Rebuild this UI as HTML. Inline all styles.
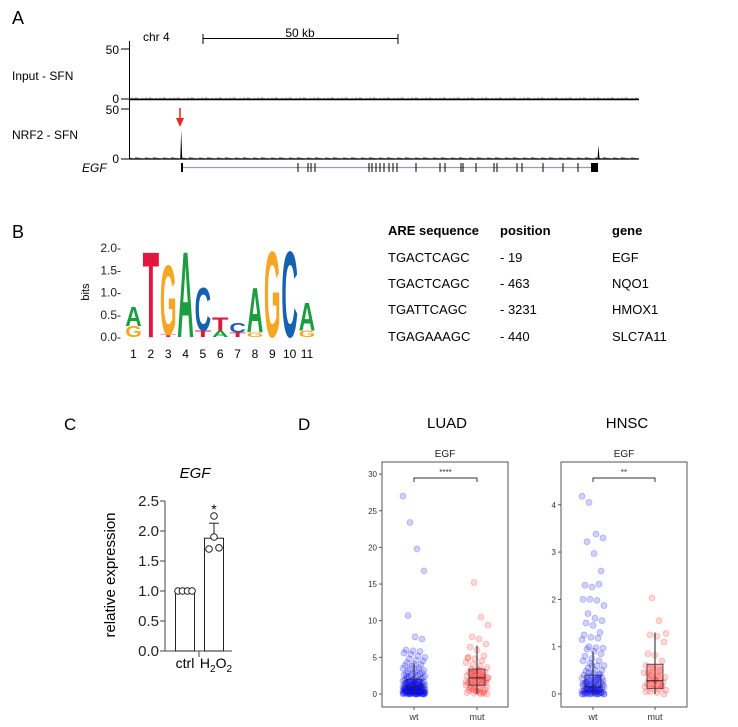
<!DOCTYPE html>
<html><head><meta charset="utf-8">
<style>
html,body{margin:0;padding:0;background:#fff;}
svg{display:block;font-family:"Liberation Sans",Arial,sans-serif;}
</style></head>
<body>
<svg id="fig" width="738" height="727" viewBox="0 0 738 727" xmlns="http://www.w3.org/2000/svg">
<!-- Panel A -->
<g>
 <text x="12" y="24" font-size="18">A</text>
 <text x="143" y="41" font-size="12">chr 4</text>
 <text x="300" y="37" font-size="12" text-anchor="middle">50 kb</text>
 <g stroke="#000" stroke-width="1">
  <line x1="203" y1="38.5" x2="398" y2="38.5"/><line x1="203" y1="34" x2="203" y2="44"/><line x1="398" y1="34" x2="398" y2="44"/>
 </g>
 <text x="12" y="80" font-size="12">Input - SFN</text>
 <text x="12" y="139" font-size="12">NRF2 - SFN</text>
 <text x="82" y="172" font-size="12" font-style="italic">EGF</text>
 <g font-size="12" text-anchor="end">
  <text x="119" y="54">50</text><text x="119" y="103">0</text>
  <text x="119" y="114">50</text><text x="119" y="163">0</text>
 </g>
 <g stroke="#000" stroke-width="1">
  <line x1="129.5" y1="41" x2="129.5" y2="159"/>
  <line x1="121" y1="49" x2="129.5" y2="49"/><line x1="121" y1="99" x2="129.5" y2="99"/>
  <line x1="121" y1="109" x2="129.5" y2="109"/><line x1="121" y1="159" x2="129.5" y2="159"/>
  <line x1="129.5" y1="99.5" x2="639" y2="99.5" stroke-width="1.5"/>
  <line x1="129.5" y1="159" x2="639" y2="159" stroke-width="1.2"/>
 </g>
 <g id="noise"></g>
 <path d="M180.3 159 L181.2 130 L182.2 159 Z" fill="#000"/>
 <path d="M597.5 159 L598.5 145 L599.5 159 Z" fill="#000"/>
 <g>
  <line x1="180" y1="108" x2="180" y2="119" stroke="#e8281e" stroke-width="1.5"/>
  <path d="M176 118 L184 118 L180 127 Z" fill="#e8281e"/>
 </g>
 <g>
  <line x1="183" y1="167.5" x2="594" y2="167.5" stroke="#9a9ab8" stroke-width="1.2"/>
  <rect x="181" y="163" width="2" height="9" fill="#000"/>
  <rect x="591" y="163" width="7" height="9" fill="#000"/>
  <g id="exons" stroke="#000" stroke-width="1"></g>
 </g>
</g>
<!-- Panel B -->
<g>
 <text x="12" y="238" font-size="18">B</text>
 <text transform="translate(89,292) rotate(-90)" font-size="11" text-anchor="middle">bits</text>
 <g font-size="12" text-anchor="end" fill="#222" id="logoticks"></g>
 <g id="logo"></g>
 <g font-size="12" text-anchor="middle" id="logopos"></g>
</g>
<!-- Table -->
<g font-size="13">
 <text x="388" y="235" font-weight="bold">ARE sequence</text>
 <text x="500" y="235" font-weight="bold">position</text>
 <text x="612" y="235" font-weight="bold">gene</text>
 <text x="388" y="262">TGACTCAGC</text><text x="500" y="262">- 19</text><text x="612" y="262">EGF</text>
 <text x="388" y="288">TGACTCAGC</text><text x="500" y="288">- 463</text><text x="612" y="288">NQO1</text>
 <text x="388" y="314">TGATTCAGC</text><text x="500" y="314">- 3231</text><text x="612" y="314">HMOX1</text>
 <text x="388" y="341">TGAGAAAGC</text><text x="500" y="341">- 440</text><text x="612" y="341">SLC7A11</text>
</g>
<!-- Panel C -->
<g id="panelc">
 <text x="64" y="430" font-size="17">C</text>
 <text x="195" y="478" font-size="15" font-style="italic" text-anchor="middle">EGF</text>
 <text transform="translate(115,575) rotate(-90)" font-size="15" text-anchor="middle">relative expression</text>
 <text x="185" y="668" font-size="14" text-anchor="middle">ctrl</text>
 <text x="216" y="668" font-size="14" text-anchor="middle">H<tspan font-size="10" dy="4">2</tspan><tspan dy="-4">O</tspan><tspan font-size="10" dy="4">2</tspan></text>
</g>
<!-- Panel D -->
<g id="paneld">
 <text x="298" y="430" font-size="17">D</text>
 <text x="447" y="428" font-size="15" text-anchor="middle">LUAD</text>
 <text x="627" y="428" font-size="15" text-anchor="middle">HNSC</text>
</g>
</svg>
<script>
// ---- Panel C data ----
const cCategories = ['ctrl', 'H2O2'];
const cMeans = [1.0, 1.88];
const cSD = [0.0, 0.25];
const cPointsCtrl = [1.0, 1.0, 1.0, 1.0];
const cPointsH2O2 = [1.7, 1.72, 1.9, 2.25];
const cTicks = [0, 0.5, 1.0, 1.5, 2.0, 2.5];
const cTickLabels = ['0.0', '0.5', '1.0', '1.5', '2.0', '2.5'];

// ---- Panel D data ----
const luadWt = [27,23.4,19.8,16.8,10.7,7.8,7.5,6,5.9,5.8,5.6,5.4,5.2,5,4.8,4.6,4.5,4.3,4.1,4,3.9,3.8,3.6,3.5,3.4,3.3,3.2,3.1,3,2.9,2.8,2.8,2.7,2.6,2.5,2.5,2.4,2.3,2.2,2.2,2.1,2,2,1.9,1.9,1.8,1.8,1.7,1.7,1.6,1.6,1.5,1.5,1.5,1.4,1.4,1.3,1.3,1.3,1.2,1.2,1.2,1.1,1.1,1.1,1,1,1,0.9,0.9,0.9,0.9,0.8,0.8,0.8,0.8,0.7,0.7,0.7,0.7,0.6,0.6,0.6,0.6,0.5,0.5,0.5,0.5,0.5,0.4,0.4,0.4,0.4,0.4,0.3,0.3,0.3,0.3,0.3,0.3,0.2,0.2,0.2,0.2,0.2,0.2,0.1,0.1,0.1,0.1,0.1,0.1,0.05,0.05,0.05,0.05,0,0,0,0,0,0,1.5,1.2,0.9,0.7,0.5,0.3,0.2,0.1,0,0,2.4,1.8,1.1,0.6,0.4,0.2,0.1,0.05,0,0];
const luadMut = [15.2,10.5,9.4,7.8,7.5,6.8,6.4,6,5.2,5,4.8,4.5,4.3,4,3.8,3.6,3.4,3.2,3,2.9,2.7,2.6,2.5,2.4,2.3,2.2,2.1,2,1.9,1.8,1.7,1.6,1.5,1.4,1.3,1.2,1.1,1,0.9,0.8,0.7,0.6,0.5,0.4,0.3,0.2,0.1,0,2.2,2.8,3.3,1.5,0.9,0.4,0.1,4.9,3.1,2.3,1.7,0.6,0.2,0];
const hnscWt = [4.18,4.05,3.38,3.3,3.22,2.97,2.6,2.3,2.26,2.32,2,2,1.98,1.87,1.7,1.6,1.55,1.5,1.45,1.3,1.25,1.2,1.18,1.15,1.0,0.98,0.97,0.95,0.9,0.85,0.8,0.75,0.7,0.7,0.65,0.6,0.6,0.55,0.5,0.5,0.48,0.45,0.42,0.4,0.38,0.35,0.33,0.3,0.3,0.28,0.26,0.25,0.24,0.22,0.2,0.2,0.18,0.17,0.16,0.15,0.14,0.13,0.12,0.11,0.1,0.1,0.09,0.08,0.07,0.06,0.05,0.05,0.04,0.03,0.03,0.02,0.02,0.01,0.01,0,0,0,0,0,0,0.35,0.25,0.15,0.1,0.05,0.02,0,0,0.45,0.3,0.2,0.12,0.06,0.03,0,0.6,0.4,0.22,0.1,0.04,0];
const hnscMut = [2.03,1.55,1.28,1.25,1.22,1.1,0.85,0.82,0.7,0.6,0.55,0.5,0.45,0.4,0.38,0.35,0.3,0.28,0.25,0.22,0.2,0.18,0.15,0.12,0.1,0.08,0.05,0.03,0,0.45,0.3,0.15,0.05];
const luadWtBox = [0, 0.3, 1.0, 2.0, 4.2];
const luadMutBox = [0, 1.2, 2.2, 3.4, 6.6];
const hnscWtBox = [0, 0.04, 0.15, 0.4, 0.9];
const hnscMutBox = [0, 0.12, 0.28, 0.63, 1.3];
const luadTicks = [0, 5, 10, 15, 20, 25, 30];
const hnscTicks = [0, 1, 2, 3, 4];
const dGroups = ['wt', 'mut'];
const luadSig = '****';
const hnscSig = '**';

// ---- Panel A / B data ----
const exonPositions = [298,308,311,315,369,372,376,380,384,389,393,397,416,440,445,461,463,476,494,497,517,522,543,563,578];
const logoTicks = [0, 0.5, 1.0, 1.5, 2.0];
const logoTickLabels = ['0.0-', '0.5-', '1.0-', '1.5-', '2.0-'];
const logoColumns = [
 [['G',0.25],['A',0.45]],
 [['T',2.0]],
 [['T',0.06],['G',1.62]],
 [['A',2.0]],
 [['T',0.15],['C',1.0]],
 [['A',0.15],['T',0.3]],
 [['T',0.1],['C',0.22]],
 [['G',0.1],['A',1.05]],
 [['G',2.0]],
 [['C',2.0]],
 [['G',0.15],['A',0.65]]
];

const NS='http://www.w3.org/2000/svg';
function mk(tag, attrs, parent){const e=document.createElementNS(NS,tag);for(const k in attrs)e.setAttribute(k,attrs[k]);parent.appendChild(e);return e;}

// Panel A noise (decorative background signal)
(function(){
 const g=document.getElementById('noise');
 let d1='M130 99', d2='M130 159';
 for(let x=130;x<=638;x+=2){
  const h1=((x*37)%7)/7*1.6+0.2, h2=((x*53)%9)/9*2.0+0.2;
  d1+=` L${x} ${99-h1} L${x+1} 99`; d2+=` L${x} ${159-h2} L${x+1} 159`;
 }
 mk('path',{d:d1,stroke:'#000','stroke-width':0.5,fill:'none'},g);
 mk('path',{d:d2,stroke:'#000','stroke-width':0.5,fill:'none'},g);
 const ex=document.getElementById('exons');
 exonPositions.forEach(x=>{
  const l=mk('line',{x1:x,y1:163,x2:x,y2:172},ex);
  
  
 });
})();

// Panel B logo
(function(){
 const g=document.getElementById('logo'), pg=document.getElementById('logopos'), tg=document.getElementById('logoticks');
 const colors={A:'#1a9e3f',C:'#1560b0',G:'#f5a623',T:'#e3173e'};
 const widths={A:72.2,C:72.2,G:77.8,T:61.1};
 const y0=337, bitPx=44.5, x0=133.5, step=17.35, w=16.5;
 logoTicks.forEach((v,i)=>{
  const t=mk('text',{x:121,y:y0-v*bitPx+4},tg); t.textContent=logoTickLabels[i];
 });
 logoColumns.forEach((col,i)=>{
  const cx=x0+i*step; let base=y0;
  col.forEach(([ch,h])=>{
   const hp=h*bitPx; if(hp<0.5) return;
   const sy=hp/72.9, sx=w/widths[ch];
   const t=mk('text',{x:0,y:0,'font-size':100,'font-weight':'bold',fill:colors[ch],'text-anchor':'middle',
     transform:`translate(${cx},${base}) scale(${sx},${sy})`},g);
   t.textContent=ch;
   
   
   base-=hp;
  });
  const p=mk('text',{x:cx,y:358},pg); p.textContent=String(i+1);
 });
})();

// Panel C
(function(){
 const g=document.getElementById('panelc');
 const ax=165, y0=651, ppu=60;
 const yS=v=>y0-v*ppu;
 const barX=[185,214], bw=19;
 mk('line',{x1:ax,y1:yS(2.5),x2:ax,y2:y0,stroke:'#444','stroke-width':1},g);
 mk('line',{x1:ax,y1:y0,x2:232,y2:y0,stroke:'#444','stroke-width':1},g);
 mk('line',{x1:199,y1:y0,x2:199,y2:y0+6,stroke:'#444','stroke-width':1},g);
 cTicks.forEach((v,i)=>{
  mk('line',{x1:ax-5,y1:yS(v),x2:ax,y2:yS(v),stroke:'#444'},g);
  const t=mk('text',{x:ax-6,y:yS(v)+5,'font-size':15,'text-anchor':'end',fill:'#222'},g); t.textContent=cTickLabels[i];
 });
 const pts=[cPointsCtrl,cPointsH2O2];
 cMeans.forEach((m,i)=>{
  const r=mk('rect',{x:barX[i]-bw/2,y:yS(m),width:bw,height:y0-yS(m),fill:'#fff',stroke:'#222','stroke-width':1},g);
  
  
  if(cSD[i]>0){
   mk('line',{x1:barX[i],y1:yS(m),x2:barX[i],y2:yS(m+cSD[i]),stroke:'#222'},g);
   mk('line',{x1:barX[i]-5,y1:yS(m+cSD[i]),x2:barX[i]+5,y2:yS(m+cSD[i]),stroke:'#222'},g);
  }
  const offs=[-7,-2.5,2.5,7];
  pts[i].forEach((v,j)=>{
   const c=mk('circle',{cx:barX[i]+(i===1?[-5,5,0,0][j]:offs[j]),cy:yS(v),r:3.3,fill:'#fff',stroke:'#222','stroke-width':1},g);
   
   
  });
 });
 const s=mk('text',{x:barX[1],y:yS(cMeans[1]+cSD[1])-9,'font-size':14,'text-anchor':'middle'},g); s.textContent='*';
})();

// Panel D
function drawBox(g, opts){
 const {left,top,w,h,y0,ppu,ticks,groups,boxes,xs,sig,color}=opts;
 const yS=v=>y0-v*ppu;
 const t=mk('text',{x:left+w/2,y:top-5,'font-size':10,'text-anchor':'middle',fill:'#222'},g); t.textContent='EGF';
 const frame=mk('rect',{x:left,y:top,width:w,height:h,fill:'none',stroke:'#555','stroke-width':1},g);
 
 
 ticks.forEach(v=>{
  mk('line',{x1:left-3,y1:yS(v),x2:left,y2:yS(v),stroke:'#555'},g);
  const tt=mk('text',{x:left-5,y:yS(v)+3,'font-size':8,'text-anchor':'end',fill:'#333'},g); tt.textContent=String(v);
 });
 groups.forEach((vals,gi)=>{
  const cx=xs[gi], col=color[gi];
  vals.forEach((v,i)=>{
   const jx=((i*7919+gi*31)%23)-11;
   const c=mk('circle',{cx:cx+jx,cy:yS(v),r:3,fill:col,'fill-opacity':0.18,stroke:col,'stroke-opacity':0.25,'stroke-width':0.8},g);
   
   
  });
  const b=boxes[gi];
  mk('line',{x1:cx,y1:yS(b[0]),x2:cx,y2:yS(b[4]),stroke:'#222','stroke-width':1},g);
  const r=mk('rect',{x:cx-8,y:yS(b[3]),width:16,height:yS(b[1])-yS(b[3]),fill:col,'fill-opacity':0.35,stroke:'#333','stroke-width':0.8},g);
  
  
  mk('line',{x1:cx-8,y1:yS(b[2]),x2:cx+8,y2:yS(b[2]),stroke:'#222','stroke-width':1},g);
  mk('line',{x1:cx,y1:top+h,x2:cx,y2:top+h+3,stroke:'#555'},g);
  const xl=mk('text',{x:cx,y:top+h+13,'font-size':9,'text-anchor':'middle',fill:'#333'},g); xl.textContent=dGroups[gi];
 });
 const by=top+16;
 const br=mk('path',{d:`M${xs[0]} ${by+4} L${xs[0]} ${by} L${xs[1]} ${by} L${xs[1]} ${by+4}`,fill:'none',stroke:'#333','stroke-width':1},g);
 
 
 const st=mk('text',{x:(xs[0]+xs[1])/2,y:by-3,'font-size':8,'text-anchor':'middle',fill:'#333'},g); st.textContent=sig;
}
(function(){
 const g=document.getElementById('paneld');
 const g1=mk('g',{},g);  
 drawBox(g1,{left:382,top:462,w:126,h:245,y0:694,ppu:7.33,ticks:luadTicks,groups:[luadWt,luadMut],boxes:[luadWtBox,luadMutBox],xs:[414,477],sig:luadSig,color:['#0000ff','#ff2020']});
 const g2=mk('g',{},g);  
 drawBox(g2,{left:561,top:462,w:126,h:245,y0:694,ppu:47.3,ticks:hnscTicks,groups:[hnscWt,hnscMut],boxes:[hnscWtBox,hnscMutBox],xs:[593,655],sig:hnscSig,color:['#0000ff','#ff2020']});
})();
</script>
</body></html>
